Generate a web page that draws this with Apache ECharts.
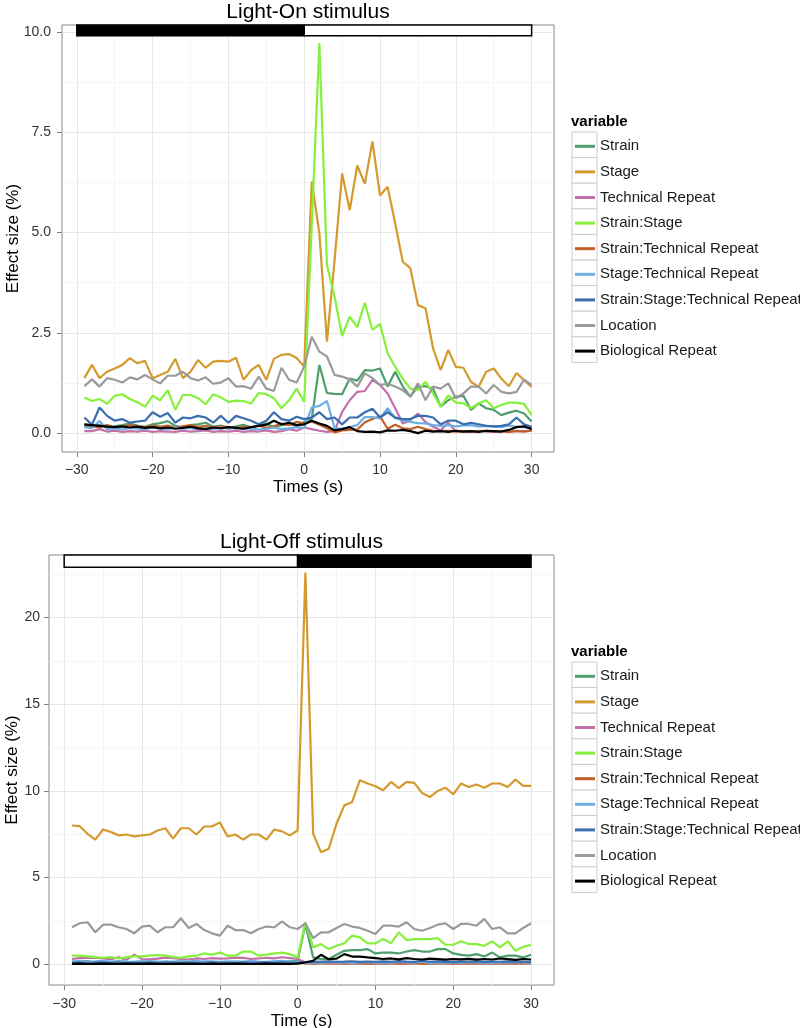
<!DOCTYPE html>
<html><head><meta charset="utf-8">
<script src="https://cdn.jsdelivr.net/npm/echarts@6/dist/echarts.min.js"></script>
<style>html,body{margin:0;padding:0;background:#fff}#c{width:800px;height:1028px}</style>
</head><body><div id="c"></div>
<script>
// ---------- DATA ----------
const times = [-29,-28,-27,-26,-25,-24,-23,-22,-21,-20,-19,-18,-17,-16,-15,-14,-13,-12,-11,-10,-9,-8,-7,-6,-5,-4,-3,-2,-1,0,1,2,3,4,5,6,7,8,9,10,11,12,13,14,15,16,17,18,19,20,21,22,23,24,25,26,27,28,29,30];
const seriesNames = ['Strain','Stage','Technical Repeat','Strain:Stage','Strain:Technical Repeat','Stage:Technical Repeat','Strain:Stage:Technical Repeat','Location','Biological Repeat'];
const seriesColors = ['#4F9E6E','#D49A2E','#C271A8','#86F03C','#C2602A','#6FAEE3','#3A6EAD','#9A9A9A','#000000'];
const xTicks = [-30,-20,-10,0,10,20,30];
const onYTicks = [0,2.5,5,7.5,10];
const offYTicks = [0,5,10,15,20];
// stimulus bars: [start, end, dark(1)/light(0)]
const onBars = [[-30,0,1],[0,30,0]];
const offBars = [[-30,0,0],[0,30,1]];

// Light-On stimulus
const on_Strain = [0.22,0.18,0.20,0.15,0.17,0.20,0.24,0.19,0.16,0.22, 0.25,0.30,0.18,0.14,0.20,0.22,0.26,0.16,0.19,0.12, 0.17,0.21,0.14,0.19,0.24,0.15,0.20,0.23,0.18,0.28, 0.36,1.70,1.00,0.98,0.97,1.36,1.31,1.57,1.56,1.61, 1.16,1.53,1.16,0.91,1.16,1.17,1.11,0.66,0.82,0.91, 0.93,0.58,0.74,0.62,0.58,0.45,0.51,0.56,0.49,0.29];
const on_Stage = [1.37,1.70,1.37,1.53,1.61,1.70,1.87,1.74,1.80,1.37, 1.45,1.53,1.85,1.37,1.53,1.82,1.63,1.78,1.80,1.78, 1.88,1.33,1.57,1.70,1.33,1.85,1.95,1.97,1.87,1.66, 6.27,4.98,2.28,4.30,6.47,5.56,6.67,6.21,7.27,5.92, 6.14,5.23,4.27,4.11,3.19,3.11,2.11,1.57,2.07,1.65, 1.63,1.28,1.15,1.53,1.61,1.36,1.17,1.50,1.32,1.15];
const on_TechRep = [0.05,0.05,0.10,0.04,0.06,0.03,0.05,0.04,0.06,0.03, 0.05,0.04,0.03,0.06,0.04,0.05,0.07,0.03,0.05,0.04, 0.06,0.03,0.05,0.04,0.07,0.03,0.05,0.10,0.06,0.14, 0.10,0.06,0.03,0.05,0.53,0.82,1.03,1.05,1.33,1.20, 0.99,0.62,0.24,0.32,0.49,0.28,0.16,0.07,0.26,0.04, 0.05,0.03,0.06,0.04,0.03,0.05,0.04,0.06,0.05,0.06];
const on_StrainStage = [0.89,0.80,0.85,0.73,0.93,0.97,0.85,0.77,0.66,0.93, 0.82,1.07,0.58,0.95,0.95,0.87,0.72,0.97,0.89,0.78, 0.81,0.80,0.74,1.00,0.97,0.87,0.62,0.82,1.11,0.78, 5.20,9.72,4.19,3.40,2.42,2.90,2.64,3.25,2.57,2.72, 1.99,1.65,1.36,1.11,1.07,1.28,0.99,0.66,0.94,0.76, 0.74,0.62,0.74,0.82,0.62,0.70,0.76,0.76,0.73,0.45];
const on_StrainTech = [0.18,0.17,0.15,0.20,0.14,0.16,0.20,0.17,0.15,0.18, 0.16,0.19,0.14,0.17,0.20,0.15,0.18,0.13,0.17,0.15, 0.12,0.16,0.14,0.19,0.13,0.17,0.24,0.20,0.28,0.24, 0.29,0.21,0.12,0.02,0.07,0.08,0.09,0.27,0.35,0.42, 0.11,0.21,0.12,0.10,0.16,0.10,0.06,0.05,0.06,0.04, 0.05,0.04,0.05,0.06,0.04,0.05,0.03,0.05,0.04,0.06];
const on_StageTech = [0.15,0.12,0.30,0.10,0.12,0.09,0.13,0.11,0.10,0.14, 0.12,0.10,0.15,0.11,0.13,0.09,0.12,0.10,0.14,0.11, 0.13,0.10,0.12,0.09,0.11,0.14,0.10,0.12,0.15,0.13, 0.64,0.68,0.80,0.13,0.10,0.15,0.20,0.40,0.40,0.37, 0.62,0.37,0.32,0.28,0.25,0.24,0.20,0.18,0.20,0.17, 0.19,0.20,0.16,0.18,0.17,0.15,0.19,0.16,0.14,0.13];
const on_StrainStageTech = [0.39,0.21,0.64,0.43,0.31,0.35,0.26,0.29,0.31,0.52, 0.41,0.50,0.26,0.39,0.37,0.43,0.39,0.26,0.43,0.26, 0.43,0.37,0.31,0.22,0.31,0.52,0.35,0.31,0.41,0.35, 0.39,0.52,0.35,0.39,0.22,0.39,0.39,0.52,0.61,0.39, 0.52,0.39,0.35,0.35,0.43,0.43,0.39,0.22,0.31,0.31, 0.22,0.26,0.22,0.18,0.17,0.18,0.22,0.39,0.22,0.16];
const on_Location = [1.17,1.34,1.16,1.37,1.33,1.26,1.39,1.34,1.45,1.34, 1.24,1.43,1.43,1.53,1.37,1.31,1.39,1.23,1.26,1.37, 1.16,1.17,1.11,1.41,1.11,1.05,1.63,1.33,1.26,1.66, 2.40,2.03,1.91,1.45,1.41,1.34,1.16,1.49,1.37,1.20, 1.23,1.16,1.07,0.91,1.24,0.82,1.16,1.11,1.24,0.87, 0.99,1.16,1.16,0.99,1.20,1.03,0.99,1.03,1.33,1.20];
const on_BioRep = [0.22,0.20,0.18,0.16,0.15,0.17,0.14,0.16,0.13,0.15, 0.12,0.14,0.11,0.13,0.16,0.12,0.10,0.14,0.12,0.15, 0.13,0.11,0.15,0.18,0.21,0.31,0.22,0.26,0.20,0.22, 0.31,0.24,0.18,0.07,0.10,0.15,0.05,0.03,0.04,0.02, 0.07,0.06,0.08,0.05,0.00,0.06,0.04,0.05,0.03,0.06, 0.04,0.05,0.03,0.06,0.05,0.04,0.08,0.15,0.17,0.10];

// Light-Off stimulus
const off_Strain = [0.15,0.12,0.18,0.10,0.14,0.12,0.16,0.11,0.13,0.15, 0.12,0.14,0.10,0.13,0.16,0.12,0.11,0.15,0.13,0.12, 0.14,0.11,0.13,0.15,0.12,0.10,0.14,0.12,0.16,0.20, 2.32,0.39,0.29,0.29,0.54,0.77,0.81,0.81,0.87,0.62, 0.67,0.67,0.62,0.73,0.81,0.73,0.73,0.87,0.87,0.62, 0.54,0.49,0.58,0.44,0.67,0.39,0.49,0.49,0.39,0.54];
const off_Stage = [8.00,7.96,7.52,7.18,7.77,7.62,7.43,7.48,7.37,7.43, 7.48,7.71,7.84,7.24,7.84,7.84,7.48,7.94,7.94,8.18, 7.37,7.48,7.18,7.48,7.48,7.18,7.77,7.66,7.43,7.71, 22.59,7.52,6.46,6.66,8.10,9.16,9.35,10.61,10.42,10.26, 10.03,10.51,10.16,10.51,10.46,9.87,9.64,9.99,10.18,9.80, 10.42,10.22,10.36,10.18,10.42,10.42,10.22,10.65,10.29,10.29];
const off_TechRep = [0.30,0.35,0.37,0.37,0.33,0.28,0.40,0.25,0.55,0.30, 0.28,0.32,0.38,0.35,0.30,0.27,0.33,0.30,0.35,0.32, 0.34,0.38,0.36,0.30,0.33,0.37,0.34,0.40,0.35,0.30, 0.10,0.05,0.08,0.04,0.05,0.03,0.04,0.05,0.03,0.04, 0.03,0.05,0.04,0.03,0.05,0.04,0.03,0.05,0.04,0.03, 0.04,0.03,0.05,0.04,0.03,0.05,0.04,0.03,0.04,0.05];
const off_StrainStage = [0.49,0.49,0.45,0.41,0.37,0.41,0.33,0.41,0.45,0.45, 0.49,0.53,0.49,0.41,0.37,0.45,0.49,0.62,0.55,0.67, 0.49,0.49,0.73,0.73,0.49,0.55,0.62,0.67,0.58,0.39, 2.42,0.97,1.16,0.87,1.06,1.20,1.65,1.55,1.20,1.20, 1.45,1.20,1.84,1.39,1.45,1.45,1.45,1.50,1.12,1.12, 1.32,1.16,1.16,1.06,1.32,0.97,1.32,0.77,1.00,1.12];
const off_StrainTech = [0.10,0.08,0.12,0.07,0.09,0.06,0.10,0.08,0.11,0.07, 0.09,0.12,0.08,0.10,0.07,0.09,0.11,0.08,0.10,0.07, 0.09,0.08,0.11,0.07,0.10,0.08,0.09,0.12,0.08,0.10, 0.04,0.03,0.05,0.04,0.06,0.03,0.05,0.04,0.03,0.05, 0.04,0.06,0.03,0.05,0.04,0.03,0.05,0.04,0.06,0.03, 0.04,0.05,0.03,0.04,0.06,0.05,0.03,0.04,0.05,0.04];
const off_StageTech = [0.15,0.18,0.13,0.16,0.20,0.14,0.17,0.15,0.12,0.16, 0.18,0.14,0.16,0.13,0.17,0.15,0.19,0.14,0.16,0.13, 0.15,0.17,0.14,0.18,0.15,0.13,0.16,0.19,0.15,0.14, 0.06,0.10,0.08,0.12,0.09,0.11,0.08,0.10,0.12,0.09, 0.11,0.08,0.13,0.10,0.09,0.15,0.08,0.11,0.09,0.10, 0.08,0.12,0.09,0.10,0.08,0.11,0.09,0.12,0.10,0.08];
const off_StrainStageTech = [0.08,0.10,0.07,0.09,0.11,0.08,0.10,0.07,0.09,0.08, 0.10,0.08,0.11,0.09,0.07,0.10,0.08,0.09,0.11,0.08, 0.09,0.07,0.10,0.08,0.09,0.11,0.08,0.10,0.09,0.08, 0.12,0.15,0.13,0.16,0.14,0.15,0.17,0.13,0.15,0.14, 0.16,0.14,0.18,0.15,0.13,0.20,0.14,0.16,0.15,0.13, 0.15,0.14,0.16,0.13,0.15,0.14,0.16,0.15,0.14,0.13];
const off_Location = [2.13,2.36,2.42,1.84,2.28,2.28,2.13,2.03,1.78,2.17, 2.22,1.84,2.13,2.13,2.65,2.09,2.32,1.97,1.78,1.65, 2.22,1.97,1.97,1.78,2.03,2.17,2.13,2.47,2.13,2.03, 2.36,1.50,1.84,1.84,2.09,2.32,2.17,2.09,1.93,1.74, 2.22,2.22,2.17,2.42,2.03,1.93,2.09,2.28,2.36,2.03, 2.32,2.32,2.22,2.61,2.03,2.13,1.78,1.78,2.09,2.36];
const off_BioRep = [0.02,0.03,0.01,0.02,0.03,0.02,0.01,0.03,0.02,0.02, 0.03,0.02,0.01,0.02,0.03,0.02,0.02,0.01,0.03,0.02, 0.02,0.03,0.02,0.01,0.02,0.03,0.02,0.02,0.01,0.03, 0.10,0.20,0.54,0.29,0.32,0.58,0.44,0.44,0.39,0.35, 0.30,0.33,0.28,0.35,0.30,0.27,0.32,0.29,0.26,0.30, 0.28,0.31,0.26,0.30,0.27,0.33,0.29,0.25,0.30,0.27];

const onData = [on_Strain,on_Stage,on_TechRep,on_StrainStage,on_StrainTech,on_StageTech,on_StrainStageTech,on_Location,on_BioRep];
const offData = [off_Strain,off_Stage,off_TechRep,off_StrainStage,off_StrainTech,off_StageTech,off_StrainStageTech,off_Location,off_BioRep];

// ---------- LAYOUT ----------
const FONT = '"Liberation Sans", Arial, Helvetica, sans-serif';
const panels = [
  {title:'Light-On stimulus', xName:'Times (s)', left:62, top:25, width:492, height:427,
   yMin:-0.47, yMax:10.17, yStep:2.5, yTicks:onYTicks, fmt:v=>v.toFixed(1), data:onData, bars:onBars, barBand:[9.9,10.17],
   titleY:12, legendHeadY:121.7, boxTop:132, yNameGap:40, yLabelMargin:11, xLabelMargin:11, xNameGap:27},
  {title:'Light-Off stimulus', xName:'Time (s)', left:49, top:555, width:505, height:430,
   yMin:-1.2, yMax:23.6, yStep:5, yTicks:offYTicks, fmt:v=>String(v), data:offData, bars:offBars, barBand:[22.9,23.6],
   titleY:542, legendHeadY:651.7, boxTop:662, yNameGap:28, yLabelMargin:9, xLabelMargin:12, xNameGap:28}
];
const ROW = 25.6;

const grids = [], xAxes = [], yAxes = [], series = [], legends = [], graphics = [];
panels.forEach((p, i) => {
  grids.push({left:p.left, top:p.top, width:p.width, height:p.height, show:true, borderColor:'#8a8a8a', borderWidth:1,
    backgroundColor:'#fff', containLabel:false, outerBoundsMode:'none'});
  xAxes.push({type:'value', gridIndex:i, min:-31.95, max:32.95, minInterval:10, maxInterval:10,
    name:p.xName, nameLocation:'middle', nameGap:p.xNameGap, nameMoveOverlap:false, nameTextStyle:{fontSize:17, color:'#000', fontFamily:FONT},
    axisLine:{show:false, onZero:false},
    axisTick:{show:true, length:5, lineStyle:{color:'#7f7f7f'}, customValues:xTicks},
    axisLabel:{customValues:xTicks, margin:p.xLabelMargin, fontSize:14, color:'#333', fontFamily:FONT, formatter:v=>String(v).replace('-', '\u2212')},
    splitLine:{show:true, lineStyle:{color:'#e6e6e6', width:1}},
    minorTick:{show:false, splitNumber:2},
    minorSplitLine:{show:true, lineStyle:{color:'#f5f5f5', width:1}}});
  yAxes.push({type:'value', gridIndex:i, min:p.yMin, max:p.yMax, minInterval:p.yStep, maxInterval:p.yStep,
    name:'Effect size (%)', nameLocation:'middle', nameGap:p.yNameGap, nameMoveOverlap:false, nameTextStyle:{fontSize:17, color:'#000', fontFamily:FONT},
    axisLine:{show:false, onZero:false},
    axisTick:{show:true, length:5, lineStyle:{color:'#7f7f7f'}, customValues:p.yTicks},
    axisLabel:{customValues:p.yTicks, margin:p.yLabelMargin, fontSize:14, color:'#333', fontFamily:FONT, formatter:p.fmt},
    splitLine:{show:true, lineStyle:{color:'#e6e6e6', width:1}},
    minorTick:{show:false, splitNumber:2},
    minorSplitLine:{show:true, lineStyle:{color:'#f5f5f5', width:1}}});
  p.data.forEach((arr, k) => {
    series.push({type:'line', name:seriesNames[k], xAxisIndex:i, yAxisIndex:i,
      data: times.map((t, j) => [t, arr[j]]), showSymbol:false, symbol:'none',
      color:seriesColors[k], itemStyle:{color:seriesColors[k]},
      lineStyle:{width:2.2, color:seriesColors[k]}, silent:true, z:2});
  });
  series.push({type:'custom', xAxisIndex:i, yAxisIndex:i, data:p.bars, silent:true, z:5,
    renderItem:(params, api) => {
      const a = api.coord([api.value(0), p.barBand[1]]);
      const b = api.coord([api.value(1), p.barBand[0]]);
      return {type:'rect', shape:{x:a[0], y:a[1], width:b[0]-a[0], height:b[1]-a[1]},
        style:{fill: api.value(2) ? '#000' : '#fff', stroke:'#000', lineWidth:1.5}};
    }});
  legends.push({orient:'vertical', left:575, top:p.boxTop + ROW/2 - 7, padding:0, itemGap:ROW - 17,
    itemWidth:20, itemHeight:3, icon:'rect', data:seriesNames, selectedMode:false, z:10,
    textStyle:{fontSize:15, lineHeight:17, color:'#1a1a1a', fontFamily:FONT}});
  graphics.push({type:'text', x:p.left + p.width/2, y:p.titleY, z:10,
    style:{text:p.title, textAlign:'center', textVerticalAlign:'middle', font:'21px ' + FONT, fill:'#000'}});
  graphics.push({type:'text', x:571, y:p.legendHeadY, z:10,
    style:{text:'variable', textAlign:'left', textVerticalAlign:'middle', font:'bold 15px ' + FONT, fill:'#000'}});
  seriesNames.forEach((n, r) => {
    graphics.push({type:'rect', z:1, shape:{x:572, y:p.boxTop + r*ROW, width:25, height:ROW},
      style:{fill:'#fff', stroke:'#cccccc', lineWidth:1}});
  });
});

const chart = echarts.init(document.getElementById('c'), null, {renderer:'canvas'});
chart.setOption({
  animation:false, backgroundColor:'#fff', textStyle:{fontFamily:FONT},
  grid:grids, xAxis:xAxes, yAxis:yAxes, series:series, legend:legends, graphic:graphics
});
</script></body></html>
